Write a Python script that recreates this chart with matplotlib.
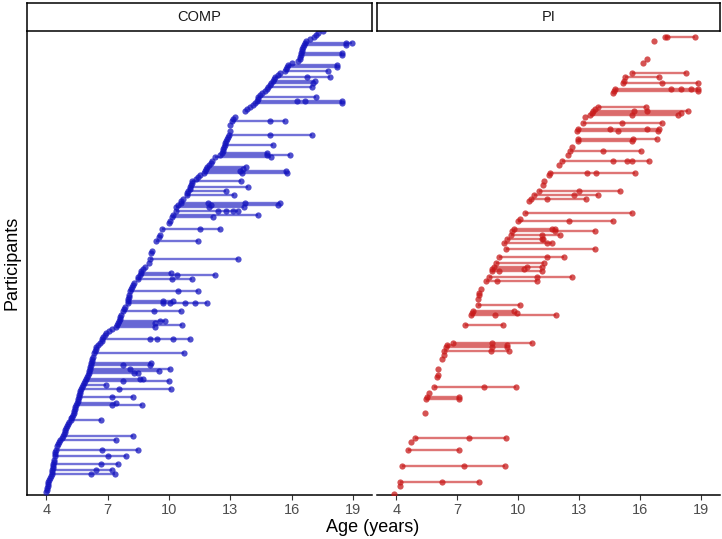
import matplotlib.pyplot as plt

plt.rcParams['font.family'] = ['Liberation Sans', 'DejaVu Sans']

# participant rank (shared ordering by first visit age) and ages at each visit
comp_rank = [1, 2, 3, 4, 5, 6, 7, 8, 9, 10, 11, 12, 13, 14, 15, 16, 17, 19, 20, 21,
             22, 24, 25, 26, 27, 28, 29, 30, 31, 32, 33, 34, 35, 36, 37, 38, 39, 40, 41, 42,
             43, 44, 45, 46, 47, 48, 49, 50, 51, 52, 53, 54, 55, 56, 57, 58, 59, 60, 61, 62,
             63, 64, 65, 66, 67, 68, 69, 71, 72, 73, 74, 75, 76, 77, 78, 79, 80, 81, 82, 83,
             84, 85, 86, 87, 88, 89, 90, 92, 93, 94, 96, 97, 98, 99, 100, 102, 103, 104, 105, 106,
             108, 109, 110, 111, 112, 113, 114, 116, 118, 121, 122, 127, 129, 130, 133, 136, 137, 139, 140, 142,
             144, 145, 146, 147, 148, 150, 151, 152, 153, 154, 155, 156, 157, 158, 159, 160, 161, 162, 163, 164,
             165, 166, 167, 169, 170, 171, 172, 173, 174, 175, 176, 177, 178, 179, 180, 182, 185, 187, 188, 189,
             192, 193, 194, 195, 196, 197, 198, 199, 200, 201, 202, 203, 204, 205, 206, 207, 208, 209, 210, 211,
             212, 213, 214, 215, 216, 217, 218, 219, 220, 221, 222, 223, 224, 225, 226, 227, 228, 229, 230, 231,
             232]
comp_ages = [
    [4.0], [4.02], [4.04], [4.07], [4.09], [4.1], [4.14], [4.17], [4.2], [4.25, 6.16, 7.33],
    [4.27], [4.28, 6.44, 7.22], [4.3], [4.32], [4.34, 6.68, 7.5], [4.36], [4.38], [4.4, 7.0, 7.9], [4.42], [4.44],
    [4.47, 6.7, 8.48], [4.5], [4.55], [4.6], [4.68, 7.42], [4.74], [4.8, 8.25], [4.85], [4.9], [4.93],
    [4.97], [5.0], [5.05], [5.1], [5.2, 6.65], [5.22], [5.25], [5.3], [5.33], [5.37],
    [5.4], [5.42], [5.45, 7.22, 8.69], [5.49, 7.42], [5.52], [5.55], [5.58, 7.22, 8.23], [5.6], [5.63], [5.66],
    [5.7, 7.55, 10.08], [5.74], [5.78, 6.9], [5.85], [5.9, 7.74, 10.0], [5.95, 8.56, 8.72], [6.0], [6.05], [6.08, 8.3, 8.48], [6.1, 9.5],
    [6.12, 8.07, 10.05], [6.14], [6.16, 7.74, 9.05], [6.19, 9.13], [6.22], [6.25], [6.3], [6.35, 10.75], [6.37], [6.4],
    [6.42], [6.5], [6.6], [6.7], [6.73, 9.08, 9.4, 10.19, 11.0], [6.78], [6.84], [6.92], [7.05], [7.2],
    [7.38, 9.32], [7.46, 10.65], [7.5, 9.3], [7.55, 9.54, 9.78], [7.58], [7.62], [7.66], [7.74, 9.25, 10.57], [7.8], [7.86],
    [7.97, 9.72, 10.05, 10.76, 11.25, 11.83], [7.99, 9.7, 10.19], [8.0], [8.02], [8.05], [8.08, 10.44, 11.42], [8.12], [8.18], [8.25], [8.3],
    [8.48, 10.16, 11.14], [8.5], [8.56, 10.4, 12.24], [8.6, 10.08], [8.62], [8.7], [8.8], [9.0], [9.05, 13.35], [9.13],
    [9.15], [9.38, 11.42], [9.5], [9.55], [9.67, 11.5, 12.51], [10.0], [10.05], [10.15, 12.15], [10.18, 14.36], [10.32, 12.4, 12.8, 13.13, 13.38],
    [10.36, 11.96, 13.66], [10.45, 12.07, 15.34], [10.57, 11.91, 13.7, 15.42], [10.6], [10.7], [10.85, 13.18], [10.88], [10.93, 12.8], [11.0], [11.04, 13.84],
    [11.07], [11.1], [11.14, 13.5], [11.3], [11.4], [11.5], [11.72, 13.54, 15.75], [11.75, 13.46, 15.7], [11.8, 13.62], [11.85, 13.75],
    [11.95], [12.07], [12.1], [12.24, 14.96], [12.5, 14.77, 15.9], [12.6, 14.8], [12.62], [12.65], [12.68], [12.72, 15.1],
    [12.75], [12.8], [12.85], [12.9], [12.94, 14.93, 16.97], [12.96], [13.0], [13.05, 14.93, 15.67], [13.1], [13.2],
    [13.7], [13.8], [13.95], [14.1], [14.2, 18.45], [14.3, 16.24, 16.65, 18.44], [14.33], [14.36, 17.19], [14.45], [14.55],
    [14.7], [14.8], [14.85, 16.97], [14.95], [15.0, 17.05], [15.1, 17.14], [15.15], [15.18, 16.73, 17.87], [15.3], [15.4],
    [15.67, 17.77], [15.72], [15.75, 18.2], [15.83, 18.2], [16.0], [16.3], [16.4], [16.42], [16.45, 18.44], [16.47, 18.44],
    [16.5], [16.52], [16.55], [16.6, 18.66], [16.65, 18.66, 18.93], [16.7], [16.9], [17.1], [17.2], [17.3],
    [17.5],
]

pi_rank = [0, 4, 6, 14, 22, 26, 28, 41, 48, 49, 51, 54, 59, 60, 63, 68, 70, 72, 74, 75,
           76, 85, 90, 91, 92, 95, 98, 100, 101, 103, 107, 109, 112, 113, 114, 116, 119, 123, 126, 128,
           130, 132, 133, 137, 138, 141, 147, 148, 150, 152, 155, 157, 160, 161, 165, 167, 170, 172, 174, 177,
           178, 182, 183, 186, 189, 190, 191, 192, 193, 194, 201, 202, 203, 206, 207, 209, 211, 216, 218, 227,
           229]
pi_ages = [
    [3.88], [4.16], [4.16, 6.25, 8.07], [4.3, 7.31, 9.33], [4.57, 7.08], [4.73], [4.93, 7.57, 9.41], [5.42], [5.47, 7.1], [5.5, 7.08],
    [5.63], [5.84, 8.32, 9.9], [5.99], [6.03], [6.07], [6.25], [6.33], [6.36, 8.65, 9.54], [6.45, 8.72, 9.46], [6.48, 9.43],
    [6.77, 8.69, 10.68], [7.38, 9.26], [7.67, 8.85, 11.84], [7.7, 9.95], [7.75, 9.8], [8.0, 10.08], [8.04], [8.06], [8.07], [8.15],
    [8.4, 8.97, 10.9], [8.56, 10.9, 12.64], [8.7, 9.05, 11.17], [8.73, 10.28], [8.8, 10.44, 11.17], [8.9, 11.24], [9.05, 11.42, 12.23], [9.38, 13.78], [9.3, 11.42, 11.66], [9.46, 11.17, 11.22],
    [9.66, 11.17, 12.07], [9.7, 11.82, 13.78], [9.78, 11.66, 11.82], [9.98, 12.5, 14.68], [10.1], [10.31, 15.57], [10.55], [10.6, 11.42, 13.34], [10.76, 12.76, 13.9], [11.0, 12.98, 15.0],
    [11.22], [11.27], [11.5], [11.58, 13.4, 13.84, 15.75], [11.99], [12.15, 14.68, 15.33, 15.57, 16.42], [12.45], [12.56, 14.19, 16.02], [12.64], [12.92, 15.6],
    [12.93, 15.65, 16.82], [12.9, 14.9, 16.88], [12.96, 14.5, 16.34, 16.92], [13.18, 15.08, 17.07], [13.3], [13.55, 15.57, 17.85], [13.6, 18.0], [13.67, 15.7, 16.34, 18.34], [13.75], [13.9, 16.27],
    [14.65], [14.7, 18.83], [14.76, 17.53, 18.02, 18.51, 18.83], [15.13, 17.09, 18.83], [15.2], [15.25, 16.92], [15.57, 18.24], [16.14], [16.34], [16.68],
    [17.2, 17.3, 18.67],
]

age_ticks = [4, 7, 10, 13, 16, 19]
groups = ["COMP", "PI"]
colors = {"COMP": "#1414BE", "PI": "#C81A1A"}

W, H = 722, 539
fig = plt.figure(figsize=(W / 100, H / 100), dpi=100)


def draw_panel(left, width, ranks, ages, name, show_y):
    ax = fig.add_axes([left / W, 1 - 495 / H, width / W, 464 / H])
    col = colors[name]
    for r, a in zip(ranks, ages):
        if len(a) > 1:
            ax.plot([min(a), max(a)], [r, r], color=col, lw=1.7, alpha=0.6,
                    solid_capstyle='butt', zorder=2)
    for r, a in zip(ranks, ages):
        ax.scatter(a, [r] * len(a), s=20, color=col, alpha=0.75, lw=0, zorder=3)
    ax.set_xlim(3.05, 19.92)
    ax.set_ylim(-0.3, 232)
    ax.set_xticks(age_ticks)
    ax.set_yticks([])
    for s in ["top", "right"]:
        ax.spines[s].set_visible(False)
    ax.spines["left"].set_visible(show_y)
    ax.spines["bottom"].set_linewidth(1.1)
    ax.spines["left"].set_linewidth(1.1)
    ax.tick_params(axis='x', length=3.5, width=0.8, color='#333333',
                   labelcolor='#4D4D4D', labelsize=10.5, pad=2)

    # facet strip
    st = fig.add_axes([left / W, 1 - 31 / H, width / W, 28 / H])
    st.set_xticks([])
    st.set_yticks([])
    for s in st.spines.values():
        s.set_linewidth(1.1)
    st.text(0.5, 0.5, name, ha='center', va='center', fontsize=10.5,
            color='#1A1A1A', transform=st.transAxes)
    return ax


draw_panel(27, 345, comp_rank, comp_ages, groups[0], True)
draw_panel(377, 343, pi_rank, pi_ages, groups[1], False)

fig.text(12 / W, 1 - 263 / H, "Participants", rotation=90, ha='center', va='center', fontsize=13)
fig.text(373 / W, 1 - 528 / H, "Age (years)", ha='center', va='center', fontsize=13)

fig.savefig("out.png", dpi=100)
